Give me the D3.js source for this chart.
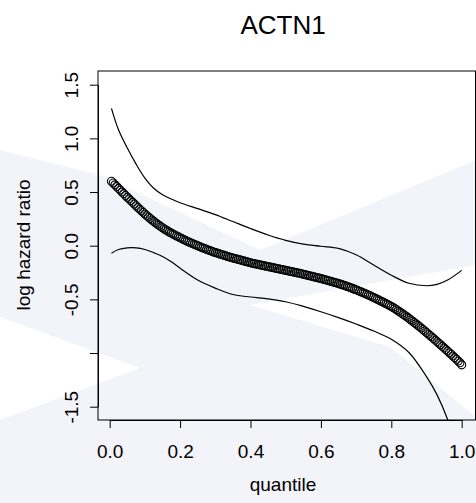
<!DOCTYPE html>
<html>
<head>
<meta charset="utf-8">
<title>ACTN1</title>
<style>
  body { margin: 0; background: #fff; }
  svg { display: block; font-family: "Liberation Sans", Arial, Helvetica, sans-serif; }
</style>
</head>
<body>
<svg width="476" height="503"></svg>
<script src="https://d3js.org/d3.v7.min.js"></script>
<script>
// fitted log hazard ratio at quantiles 0.005, 0.010, ... 1.000
const fitQuantile = d3.range(1, 201).map(k => k / 200)
const fitValue = [
  0.600, 0.584, 0.567, 0.551, 0.534, 0.518, 0.501, 0.485, 0.468, 0.452,
  0.436, 0.420, 0.404, 0.388, 0.372, 0.356, 0.341, 0.326, 0.311, 0.296,
  0.282, 0.268, 0.254, 0.240, 0.227, 0.214, 0.202, 0.190, 0.178, 0.167,
  0.156, 0.146, 0.136, 0.126, 0.117, 0.108, 0.099, 0.090, 0.082, 0.074,
  0.066, 0.058, 0.050, 0.042, 0.035, 0.027, 0.020, 0.013, 0.006, -0.001,
  -0.008, -0.015, -0.021, -0.027, -0.034, -0.040, -0.046, -0.052, -0.058, -0.063,
  -0.069, -0.074, -0.080, -0.085, -0.090, -0.095, -0.100, -0.105, -0.110, -0.114,
  -0.119, -0.123, -0.128, -0.132, -0.137, -0.141, -0.146, -0.150, -0.155, -0.159,
  -0.163, -0.167, -0.171, -0.174, -0.178, -0.181, -0.185, -0.188, -0.192, -0.195,
  -0.199, -0.202, -0.206, -0.209, -0.213, -0.216, -0.220, -0.223, -0.227, -0.230,
  -0.234, -0.237, -0.241, -0.244, -0.248, -0.251, -0.255, -0.258, -0.262, -0.266,
  -0.270, -0.274, -0.278, -0.282, -0.286, -0.290, -0.294, -0.298, -0.302, -0.306,
  -0.311, -0.315, -0.320, -0.324, -0.329, -0.333, -0.338, -0.343, -0.348, -0.353,
  -0.358, -0.363, -0.369, -0.374, -0.380, -0.386, -0.392, -0.398, -0.405, -0.411,
  -0.418, -0.424, -0.431, -0.438, -0.445, -0.452, -0.460, -0.467, -0.475, -0.483,
  -0.491, -0.499, -0.507, -0.515, -0.523, -0.531, -0.540, -0.548, -0.557, -0.566,
  -0.575, -0.586, -0.597, -0.608, -0.619, -0.630, -0.642, -0.653, -0.665, -0.677,
  -0.690, -0.702, -0.715, -0.728, -0.741, -0.754, -0.767, -0.781, -0.795, -0.809,
  -0.823, -0.837, -0.851, -0.865, -0.880, -0.894, -0.909, -0.923, -0.938, -0.952,
  -0.967, -0.982, -0.997, -1.012, -1.027, -1.043, -1.058, -1.074, -1.090, -1.110
]

// confidence band
const bandQuantile = [0.005, 0.025, 0.05, 0.075, 0.1, 0.125, 0.15, 0.175, 0.2, 0.25,
  0.3, 0.35, 0.4, 0.45, 0.5, 0.55, 0.6, 0.65, 0.7, 0.75, 0.8, 0.85, 0.9, 0.93, 0.96, 1.0]
const upper = [1.28, 1.08, 0.91, 0.76, 0.63, 0.535, 0.475, 0.435, 0.40, 0.345,
  0.29, 0.225, 0.16, 0.10, 0.05, 0.015, -0.005, -0.025, -0.085, -0.18,
  -0.275, -0.35, -0.373, -0.36, -0.32, -0.23]
const lower = [-0.07, -0.035, -0.02, -0.02, -0.035, -0.065, -0.10, -0.15, -0.21, -0.32,
  -0.395, -0.455, -0.478, -0.495, -0.522, -0.565, -0.615, -0.67, -0.73, -0.795,
  -0.872, -0.995, -1.22, -1.39, -1.62, -2.05]

const xTicks = [0, 0.2, 0.4, 0.6, 0.8, 1.0]
const yTicks = [-1.5, -1.0, -0.5, 0.0, 0.5, 1.0, 1.5]

const box = {left: 98, right: 475.5, top: 71, bottom: 420}

const svg = d3.select("svg")

// faint watermark behind the plot
const wm = svg.append("g").attr("fill", "#f3f4f9")
wm.append("path").attr("d", "M0,150 L100,175 L260,250 L476,160 L476,265 L250,305 L140,368 L0,317 Z")
wm.append("path").attr("d", "M140,368 L250,305 L390,347 L476,417 L476,503 L0,503 L0,420 Z")

const x = d3.scaleLinear().domain([0, 1]).range([109.7, 461.7])
const y = d3.scaleLinear().domain([-1.5, 1.5]).range([406.7, 84.7])
const fmt = d => d.toFixed(1)

svg.append("defs").append("clipPath").attr("id", "plotclip")
  .append("rect")
  .attr("x", box.left).attr("y", box.top)
  .attr("width", box.right - box.left).attr("height", box.bottom - box.top)

// axes
const xAxis = svg.append("g")
  .attr("transform", "translate(0," + box.bottom + ")")
  .call(d3.axisBottom(x).tickValues(xTicks).tickSize(8).tickSizeOuter(0).tickFormat(fmt))
xAxis.selectAll("text").attr("y", 38).attr("dy", 0).attr("font-size", 19).attr("fill", "#000")

const yAxis = svg.append("g")
  .attr("transform", "translate(" + box.left + ",0)")
  .call(d3.axisLeft(y).tickValues(yTicks).tickSize(8).tickSizeOuter(0)
    .tickFormat(d => d === -1 ? "" : fmt(d)))
yAxis.selectAll("text")
  .attr("transform", "rotate(-90)")
  .attr("x", 0).attr("y", -20).attr("dy", 0)
  .attr("text-anchor", "middle").attr("font-size", 19).attr("fill", "#000")

svg.selectAll(".domain, .tick line").attr("stroke", "#000").attr("stroke-width", 1)

// plot box
svg.append("rect")
  .attr("x", box.left).attr("y", box.top)
  .attr("width", box.right - box.left).attr("height", box.bottom - box.top)
  .attr("fill", "none").attr("stroke", "#000").attr("stroke-width", 1)

// band lines
const line = d3.line().curve(d3.curveCatmullRom)
  .x((d, i) => x(bandQuantile[i])).y(d => y(d))

const plot = svg.append("g").attr("clip-path", "url(#plotclip)")
plot.append("path").datum(upper).attr("d", line)
  .attr("fill", "none").attr("stroke", "#000").attr("stroke-width", 1.2)
plot.append("path").datum(lower).attr("d", line)
  .attr("fill", "none").attr("stroke", "#000").attr("stroke-width", 1.2)

// fitted points
plot.selectAll("circle")
  .data(fitValue)
  .enter().append("circle")
  .attr("cx", (d, i) => x(fitQuantile[i]))
  .attr("cy", d => y(d))
  .attr("r", 4)
  .attr("fill", "none")
  .attr("stroke", "#000")
  .attr("stroke-width", 1.1)

// titles
svg.append("text").attr("x", 283).attr("y", 34)
  .attr("text-anchor", "middle").attr("font-size", 26).text("ACTN1")
svg.append("text").attr("x", 283).attr("y", 491)
  .attr("text-anchor", "middle").attr("font-size", 19).text("quantile")
svg.append("text")
  .attr("transform", "translate(30,245) rotate(-90)")
  .attr("text-anchor", "middle").attr("font-size", 19).text("log hazard ratio")
</script>
</body>
</html>
